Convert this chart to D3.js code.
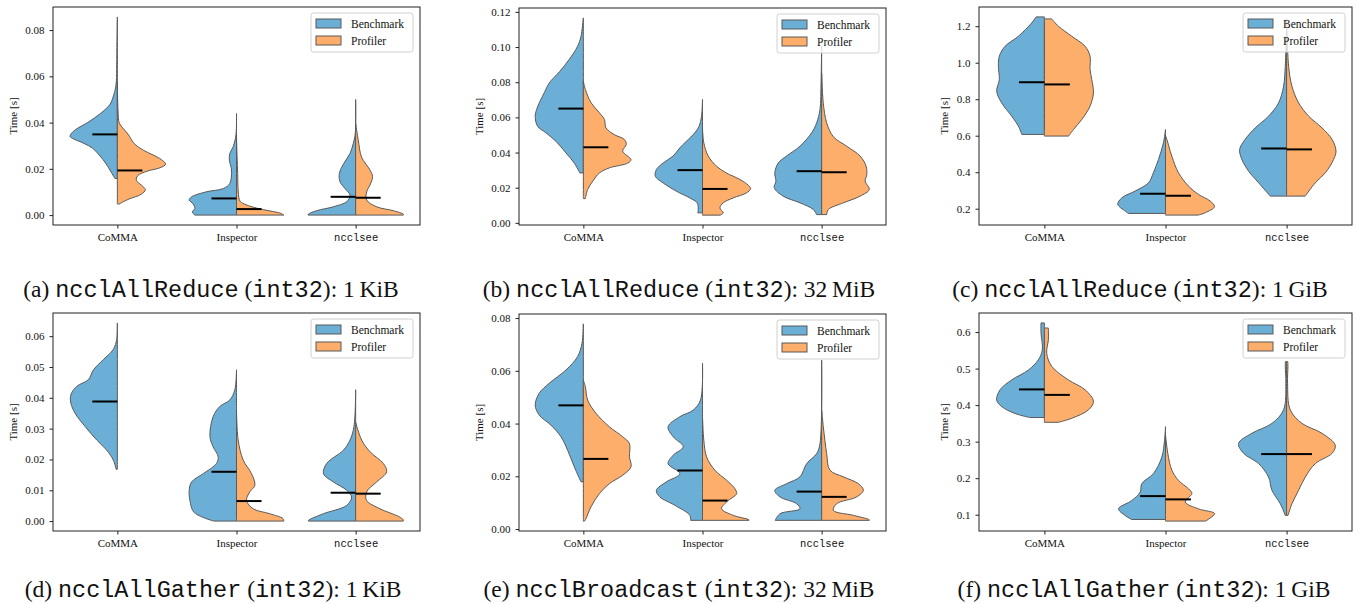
<!DOCTYPE html>
<html>
<head>
<meta charset="utf-8">
<script src="https://cdn.jsdelivr.net/npm/d3@7"></script>
<style>
body { margin: 0; background: #fff; }
svg text { font-family: "Liberation Serif", "Times New Roman", serif; fill: #111; }
svg text.mono, svg tspan.mono { font-family: "Liberation Mono", "Courier New", monospace; }
</style>
</head>
<body>
<svg id="chart" width="1359" height="604"></svg>
<script>
// categories + legend series
const categories = ["CoMMA", "Inspector", "ncclsee"]
const series = ["Benchmark", "Profiler"]
const colors = ["#6baed6", "#fdae6b"]

// violin outlines: [time (s), half width in category units]
// one outline per category, Benchmark on the left, Profiler on the right

// (a) ncclAllReduce 1 KiB
const aBenchmark = [
    [[0.0857,0],[0.075,0.003],[0.065,0.005],[0.058,0.008],[0.055,0.015],[0.052,0.03],[0.048,0.06],[0.044,0.14],[0.040,0.25],[0.037,0.35],[0.035,0.39],[0.034,0.397],[0.033,0.37],[0.031,0.28],[0.029,0.21],[0.027,0.17],[0.024,0.12],[0.021,0.08],[0.018,0.045],[0.0158,0.02]],
    [[0.0439,0],[0.035,0.004],[0.0295,0.028],[0.0267,0.056],[0.0238,0.06],[0.0195,0.042],[0.0137,0.056],[0.0115,0.11],[0.0101,0.25],[0.0079,0.377],[0.0065,0.397],[0.0048,0.363],[0.0029,0.35],[0.0014,0.37],[0,0.35]],
    [[0.050,0],[0.035,0.004],[0.031,0.02],[0.0267,0.047],[0.0223,0.1],[0.018,0.137],[0.0144,0.131],[0.0115,0.09],[0.0086,0.047],[0.0058,0.075],[0.0036,0.187],[0.0019,0.327],[0.0004,0.397],[0,0.4]]
]
const aProfiler = [
    [[0.0576,0],[0.045,0.006],[0.040,0.015],[0.038,0.04],[0.035,0.09],[0.031,0.14],[0.028,0.22],[0.026,0.3],[0.024,0.37],[0.022,0.405],[0.0205,0.36],[0.019,0.25],[0.017,0.17],[0.015,0.16],[0.013,0.2],[0.011,0.235],[0.009,0.2],[0.007,0.1],[0.0055,0.04],[0.0048,0.02]],
    [[0.034,0],[0.025,0.005],[0.018,0.01],[0.010,0.015],[0.006,0.03],[0.0045,0.08],[0.003,0.17],[0.0018,0.28],[0.0008,0.37],[0,0.397]],
    [[0.0396,0],[0.0324,0.022],[0.025,0.05],[0.0195,0.12],[0.0166,0.142],[0.013,0.12],[0.010,0.092],[0.0065,0.092],[0.0036,0.176],[0.0019,0.316],[0.0004,0.4],[0,0.4]]
]
const aMedians = [[0.0349, 0.0072, 0.0079], [0.0193, 0.0026, 0.0075]]
const aTicks = [0, 0.02, 0.04, 0.06, 0.08]

// (b) ncclAllReduce 32 MiB
const bBenchmark = [
    [[0.1166,0],[0.106,0.02],[0.1005,0.048],[0.093,0.118],[0.086,0.2],[0.0796,0.286],[0.074,0.328],[0.066,0.384],[0.0607,0.404],[0.055,0.384],[0.0512,0.314],[0.0464,0.23],[0.0398,0.146],[0.034,0.076],[0.0284,0.03]],
    [[0.0702,0],[0.0607,0.008],[0.055,0.028],[0.0512,0.065],[0.0464,0.135],[0.0427,0.19],[0.038,0.247],[0.0341,0.33],[0.0303,0.387],[0.0265,0.396],[0.0227,0.33],[0.018,0.219],[0.0142,0.107],[0.0114,0.045],[0.0076,0.036],[0.0057,0.04]],
    [[0.1005,0],[0.08,0.005],[0.0645,0.014],[0.0569,0.042],[0.0512,0.084],[0.0436,0.182],[0.038,0.295],[0.034,0.365],[0.0284,0.393],[0.0237,0.384],[0.02,0.398],[0.0152,0.323],[0.0114,0.182],[0.0076,0.07],[0.0047,0.042]]
]
const bProfiler = [
    [[0.0806,0],[0.0759,0.017],[0.0683,0.065],[0.0626,0.135],[0.0588,0.177],[0.054,0.19],[0.0502,0.26],[0.0474,0.345],[0.0446,0.36],[0.0408,0.33],[0.036,0.40],[0.034,0.373],[0.0313,0.22],[0.0284,0.135],[0.0237,0.079],[0.019,0.036],[0.0138,0.017]],
    [[0.054,0],[0.0455,0.011],[0.038,0.048],[0.0322,0.118],[0.0284,0.2],[0.0247,0.314],[0.0214,0.384],[0.0195,0.404],[0.0171,0.37],[0.0142,0.258],[0.0114,0.174],[0.0085,0.146],[0.0057,0.174],[0.0044,0.15]],
    [[0.085,0],[0.068,0.014],[0.0569,0.042],[0.049,0.098],[0.0436,0.21],[0.038,0.323],[0.0322,0.373],[0.0275,0.379],[0.0237,0.365],[0.019,0.40],[0.0152,0.323],[0.0114,0.182],[0.0076,0.056],[0.0047,0.042]]
]
const bMedians = [[0.065, 0.030, 0.0294], [0.043, 0.0193, 0.0288]]
const bTicks = [0, 0.02, 0.04, 0.06, 0.08, 0.10, 0.12]

// (c) ncclAllReduce 1 GiB
const cBenchmark = [
    [[1.251,0.069],[1.218,0.105],[1.145,0.215],[1.09,0.325],[1.036,0.372],[0.98,0.38],[0.908,0.372],[0.844,0.394],[0.78,0.353],[0.707,0.27],[0.653,0.215],[0.607,0.187]],
    [[0.634,0],[0.561,0.017],[0.47,0.058],[0.397,0.1],[0.342,0.14],[0.297,0.25],[0.26,0.36],[0.224,0.394],[0.187,0.333],[0.174,0.306]],
    [[1.24,0],[0.98,0.011],[0.871,0.025],[0.78,0.066],[0.707,0.149],[0.643,0.259],[0.58,0.342],[0.525,0.388],[0.47,0.369],[0.406,0.314],[0.342,0.231],[0.269,0.135]]
]
const cProfiler = [
    [[1.24,0.06],[1.2,0.116],[1.145,0.226],[1.09,0.336],[1.036,0.377],[0.963,0.377],[0.908,0.391],[0.835,0.405],[0.762,0.377],[0.689,0.309],[0.634,0.24],[0.598,0.2]],
    [[0.6,0],[0.58,0.011],[0.488,0.052],[0.397,0.107],[0.324,0.19],[0.278,0.273],[0.242,0.369],[0.211,0.405],[0.178,0.328],[0.165,0.27]],
    [[1.24,0],[0.98,0.017],[0.871,0.044],[0.78,0.099],[0.707,0.182],[0.643,0.292],[0.58,0.375],[0.516,0.408],[0.47,0.388],[0.397,0.32],[0.342,0.237],[0.269,0.154]]
]
const cMedians = [[0.893, 0.282, 0.53], [0.881, 0.271, 0.525]]
const cTicks = [0.2, 0.4, 0.6, 0.8, 1.0, 1.2]

// (d) ncclAllGather 1 KiB (no profiler run for CoMMA)
const dBenchmark = [
    [[0.0643,0],[0.0589,0.006],[0.0557,0.034],[0.0524,0.117],[0.0491,0.2],[0.0459,0.243],[0.0437,0.341],[0.041,0.39],[0.0383,0.39],[0.035,0.355],[0.0307,0.271],[0.0263,0.173],[0.023,0.089],[0.0198,0.034],[0.0168,0.01]],
    [[0.0491,0],[0.0426,0.014],[0.0393,0.056],[0.0372,0.14],[0.0339,0.196],[0.0274,0.223],[0.0241,0.196],[0.0209,0.154],[0.0187,0.168],[0.0154,0.279],[0.0127,0.377],[0.01,0.397],[0.0067,0.391],[0.003,0.36],[0.0012,0.28],[0,0.19]],
    [[0.0426,0],[0.0307,0.014],[0.0263,0.047],[0.023,0.103],[0.0187,0.243],[0.0154,0.27],[0.0127,0.187],[0.01,0.075],[0.0078,0.034],[0.0051,0.075],[0.0024,0.271],[0.0002,0.397],[0,0.397]]
]
const dProfiler = [
    [],
    [[0.036,0],[0.0263,0.014],[0.0198,0.056],[0.0154,0.126],[0.0116,0.154],[0.0095,0.112],[0.0067,0.084],[0.004,0.14],[0.0024,0.279],[0.0008,0.39],[0,0.397]],
    [[0.032,0],[0.0263,0.05],[0.0225,0.12],[0.0187,0.232],[0.016,0.26],[0.0127,0.176],[0.0095,0.092],[0.0067,0.092],[0.004,0.204],[0.0015,0.36],[0.0004,0.4],[0,0.4]]
]
const dMedians = [[0.0388, 0.016, 0.0092], [null, 0.0065, 0.0089]]
const dTicks = [0, 0.01, 0.02, 0.03, 0.04, 0.05, 0.06]

// (e) ncclBroadcast 32 MiB
const eBenchmark = [
    [[0.0778,0],[0.0705,0.011],[0.0654,0.048],[0.0603,0.146],[0.0553,0.286],[0.0515,0.37],[0.047,0.404],[0.0432,0.37],[0.0394,0.272],[0.035,0.188],[0.0299,0.132],[0.0236,0.076],[0.0179,0.02]],
    [[0.0629,0],[0.0489,0.017],[0.0451,0.078],[0.0426,0.19],[0.0388,0.289],[0.035,0.246],[0.0312,0.162],[0.028,0.246],[0.0248,0.289],[0.021,0.19],[0.0179,0.303],[0.0147,0.387],[0.0122,0.359],[0.009,0.232],[0.0052,0.106],[0.0033,0.1]],
    [[0.064,0],[0.0324,0.014],[0.0286,0.042],[0.0248,0.126],[0.0198,0.182],[0.0172,0.294],[0.0147,0.393],[0.0122,0.35],[0.0096,0.21],[0.0077,0.182],[0.0058,0.35],[0.0033,0.39]]
]
const eProfiler = [
    [[0.0565,0],[0.054,0.017],[0.0489,0.036],[0.0439,0.106],[0.0388,0.218],[0.035,0.33],[0.0324,0.387],[0.0274,0.387],[0.0236,0.4],[0.0204,0.33],[0.0172,0.218],[0.0134,0.134],[0.0084,0.064],[0.0039,0.022],[0.003,0.01]],
    [[0.0426,0],[0.0337,0.011],[0.0274,0.034],[0.0223,0.104],[0.0185,0.202],[0.0153,0.272],[0.0134,0.286],[0.0103,0.202],[0.0077,0.16],[0.0052,0.258],[0.0035,0.39],[0.0033,0.39]],
    [[0.045,0],[0.0388,0.014],[0.0286,0.042],[0.0223,0.07],[0.0198,0.182],[0.0172,0.308],[0.0147,0.35],[0.0122,0.294],[0.0096,0.126],[0.0071,0.098],[0.0052,0.266],[0.0035,0.4],[0.0033,0.4]]
]
const eMedians = [[0.0469, 0.0222, 0.0142], [0.0266, 0.0108, 0.0122]]
const eTicks = [0, 0.02, 0.04, 0.06, 0.08]

// (f) ncclAllGather 1 GiB
const fBenchmark = [
    [[0.625,0.028],[0.597,0.028],[0.551,0.017],[0.524,0.05],[0.496,0.132],[0.469,0.27],[0.442,0.366],[0.414,0.394],[0.396,0.353],[0.377,0.242],[0.366,0.118]],
    [[0.341,0],[0.304,0.008],[0.258,0.03],[0.213,0.099],[0.185,0.196],[0.162,0.209],[0.139,0.278],[0.116,0.388],[0.098,0.333],[0.087,0.28]],
    [[0.519,0.01],[0.506,0.011],[0.46,0.006],[0.387,0.025],[0.35,0.121],[0.323,0.287],[0.295,0.397],[0.268,0.355],[0.24,0.231],[0.203,0.149],[0.167,0.121],[0.13,0.052],[0.098,0.011]]
]
const fProfiler = [
    [[0.611,0.033],[0.579,0.033],[0.542,0.019],[0.506,0.061],[0.469,0.198],[0.442,0.336],[0.41,0.405],[0.387,0.364],[0.364,0.226],[0.353,0.116]],
    [[0.318,0],[0.268,0.019],[0.222,0.052],[0.194,0.107],[0.171,0.19],[0.158,0.218],[0.135,0.163],[0.116,0.273],[0.103,0.405],[0.0826,0.33]],
    [[0.519,0.01],[0.506,0.011],[0.46,0.008],[0.387,0.03],[0.35,0.127],[0.323,0.292],[0.29,0.402],[0.268,0.375],[0.24,0.237],[0.203,0.154],[0.167,0.099],[0.13,0.044],[0.098,0.011]]
]
const fMedians = [[0.443, 0.151, 0.266], [0.428, 0.142, 0.266]]
const fTicks = [0.1, 0.2, 0.3, 0.4, 0.5, 0.6]

// caption pieces, [text, monospace?]
const captions = [
    [["(a) ", 0], ["ncclAllReduce", 1], [" (", 0], ["int32", 1], ["): 1\u2009KiB", 0]],
    [["(b) ", 0], ["ncclAllReduce", 1], [" (", 0], ["int32", 1], ["): 32\u2009MiB", 0]],
    [["(c) ", 0], ["ncclAllReduce", 1], [" (", 0], ["int32", 1], ["): 1\u2009GiB", 0]],
    [["(d) ", 0], ["ncclAllGather", 1], [" (", 0], ["int32", 1], ["): 1\u2009KiB", 0]],
    [["(e) ", 0], ["ncclBroadcast", 1], [" (", 0], ["int32", 1], ["): 32\u2009MiB", 0]],
    [["(f) ", 0], ["ncclAllGather", 1], [" (", 0], ["int32", 1], ["): 1\u2009GiB", 0]]
]

// panel frames on the page
const panels = [
    { bench: aBenchmark, prof: aProfiler, med: aMedians, ticks: aTicks, fmt: ".2f", left: 53, right: 420, top: 7, bottom: 225, capX: 211, capY: 297 },
    { bench: bBenchmark, prof: bProfiler, med: bMedians, ticks: bTicks, fmt: ".2f", left: 519, right: 886, top: 8, bottom: 225, capX: 679, capY: 297 },
    { bench: cBenchmark, prof: cProfiler, med: cMedians, ticks: cTicks, fmt: ".1f", left: 979, right: 1352, top: 7, bottom: 225, capX: 1140, capY: 297 },
    { bench: dBenchmark, prof: dProfiler, med: dMedians, ticks: dTicks, fmt: ".2f", left: 53, right: 420, top: 313, bottom: 531, capX: 213, capY: 597 },
    { bench: eBenchmark, prof: eProfiler, med: eMedians, ticks: eTicks, fmt: ".2f", left: 519, right: 886, top: 314, bottom: 531, capX: 679, capY: 597 },
    { bench: fBenchmark, prof: fProfiler, med: fMedians, ticks: fTicks, fmt: ".1f", left: 979, right: 1352, top: 313, bottom: 531, capX: 1144, capY: 597 }
]

const svg = d3.select("#chart")
const edge = "#595959"

function drawHalf(g, x, y, i, outline, side, color) {
    if (!outline.length) return
    let pts = outline.slice().sort((a, b) => a[0] - b[0])
    let area = d3.area()
        .curve(d3.curveCatmullRom)
        .y(d => y(d[0]))
        .x0(x(i))
        .x1(d => x(i + side * d[1]))
    g.append("path")
        .attr("d", area(pts))
        .attr("fill", color)
        .attr("stroke", edge)
        .attr("stroke-width", 1)
        .attr("stroke-linejoin", "round")
}

panels.forEach((p, k) => {
    let g = svg.append("g")

    // matplotlib style limits: data extent plus 5%
    let all = p.bench.concat(p.prof).flat().map(d => d[0])
    let lo = d3.min(all), hi = d3.max(all), pad = (hi - lo) * 0.05
    let y = d3.scaleLinear().domain([lo - pad, hi + pad]).range([p.bottom, p.top])
    let x = d3.scaleLinear().domain([-0.54, 2.54]).range([p.left, p.right])

    categories.forEach((c, i) => {
        drawHalf(g, x, y, i, p.bench[i], -1, colors[0])
        drawHalf(g, x, y, i, p.prof[i], 1, colors[1])
    })

    // median bars
    categories.forEach((c, i) => {
        if (p.med[0][i] != null)
            g.append("line")
                .attr("x1", x(i - 0.21)).attr("x2", x(i))
                .attr("y1", y(p.med[0][i])).attr("y2", y(p.med[0][i]))
                .attr("stroke", "#000").attr("stroke-width", 2)
        if (p.med[1][i] != null)
            g.append("line")
                .attr("x1", x(i)).attr("x2", x(i + 0.21))
                .attr("y1", y(p.med[1][i])).attr("y2", y(p.med[1][i]))
                .attr("stroke", "#000").attr("stroke-width", 2)
    })

    // frame
    g.append("rect")
        .attr("x", p.left).attr("y", p.top)
        .attr("width", p.right - p.left).attr("height", p.bottom - p.top)
        .attr("fill", "none").attr("stroke", "#222").attr("stroke-width", 1)

    let yAxis = g.append("g")
        .attr("transform", "translate(" + p.left + ",0)")
        .call(d3.axisLeft(y).tickValues(p.ticks).tickFormat(d3.format(p.fmt)).tickSize(3.5).tickPadding(5))
    let xAxis = g.append("g")
        .attr("transform", "translate(0," + p.bottom + ")")
        .call(d3.axisBottom(x).tickValues([0, 1, 2]).tickFormat(i => categories[i]).tickSize(3.5).tickPadding(5))
    ;[yAxis, xAxis].forEach(a => {
        a.select(".domain").remove()
        a.attr("font-family", null).attr("font-size", null)
        a.selectAll("line").attr("stroke", "#222")
        a.selectAll("text").style("font-size", "11px").attr("fill", "#111")
    })
    xAxis.selectAll("text").filter(d => d == 2).classed("mono", true).style("font-size", "10.5px")

    // y label beside the widest tick label
    let w = d3.max(yAxis.selectAll("text").nodes(), n => n.getComputedTextLength())
    g.append("text")
        .attr("transform", "translate(" + (p.left - 9 - w - 8) + "," + ((p.top + p.bottom) / 2) + ") rotate(-90)")
        .attr("text-anchor", "middle")
        .style("font-size", "11px")
        .text("Time [s]")

    // legend
    let lx = p.right - 109, ly = p.top + 6
    let lg = g.append("g").attr("transform", "translate(" + lx + "," + ly + ")")
    lg.append("rect")
        .attr("width", 102).attr("height", 39).attr("rx", 2.5)
        .attr("fill", "#fff").attr("fill-opacity", 0.8)
        .attr("stroke", "#d0d0d0").attr("stroke-width", 1)
    series.forEach((s, j) => {
        lg.append("rect")
            .attr("x", 5).attr("y", 6 + j * 17)
            .attr("width", 25).attr("height", 9)
            .attr("fill", colors[j]).attr("stroke", edge).attr("stroke-width", 1)
        lg.append("text")
            .attr("x", 40).attr("y", 15 + j * 17)
            .style("font-size", "11.5px")
            .text(s)
    })

    // caption
    let cap = svg.append("text")
        .attr("x", p.capX).attr("y", p.capY)
        .attr("text-anchor", "middle")
        .style("font-size", "23.5px")
    captions[k].forEach(part => {
        cap.append("tspan").classed("mono", part[1] == 1).text(part[0])
    })
})
</script>
</body>
</html>
